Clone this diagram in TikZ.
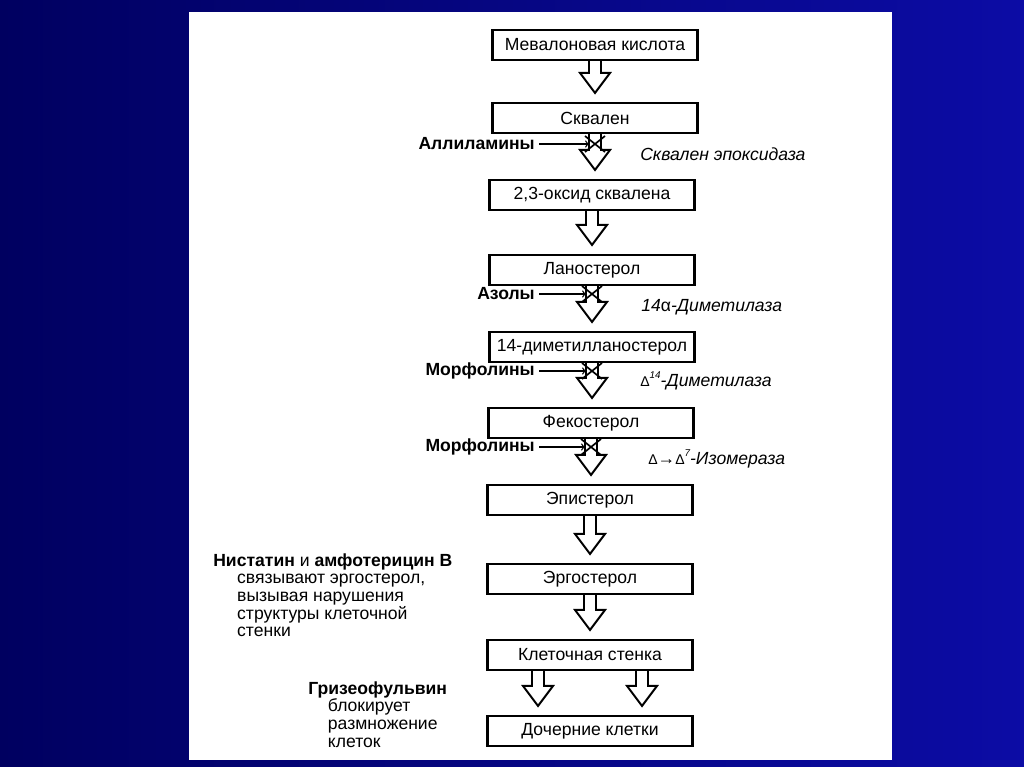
\documentclass[tikz,border=0pt]{standalone}
\usepackage{fontspec}
\setmainfont{Liberation Sans}
\usetikzlibrary{calc}
\definecolor{slidedark}{RGB}{0,0,96}
\definecolor{slidelight}{RGB}{12,12,165}
\tikzset{
  stage/.style={draw, line width=1.5pt, minimum width=5.125cm, minimum height=0.75cm, inner sep=0pt, font=\fontsize{12.5}{14}\selectfont},
  hollow/.style={line width=1.4pt, line join=miter},
  drug/.style={anchor=east, inner sep=0pt, font=\fontsize{12.5}{14}\selectfont\bfseries},
  enzyme/.style={anchor=west, inner sep=0pt, font=\fontsize{12.5}{14}\selectfont\itshape},
  note/.style={anchor=north west, inner sep=0pt, align=left, font=\fontsize{12.5}{12.6}\selectfont},
}
\newcommand{\smalldelta}{{\upshape\fontsize{10}{12}\selectfont Δ}}
% hollow block arrow from a shaft top (#1) down to the box #2
\newcommand{\blockarrow}[2]{%
  \draw[hollow] ($(#1)+(-6,0)$) -- ($(#1 |- #2.north)+(-6,-29)$) -- ($(#1 |- #2.north)+(-15,-29)$)
    -- ($(#1 |- #2.north)+(0,-9)$) -- ($(#1 |- #2.north)+(15,-29)$) -- ($(#1 |- #2.north)+(6,-29)$) -- ($(#1)+(6,0)$);
}
% cross over the shaft where a step is blocked
\newcommand{\blockmark}[1]{%
  \draw[line width=1.2pt] ($(#1)+(-4,-8)$) -- ($(#1)+(16,8)$) ($(#1)+(-4,8)$) -- ($(#1)+(16,-8)$);
}
\begin{document}
\begin{tikzpicture}[x=0.025cm, y=-0.025cm]
    \useasboundingbox (0,0) rectangle (1024,767);
    \shade[left color=slidedark, right color=slidelight] (0,0) rectangle (1024,767);
    \fill[white] (189,12) rectangle (892,760);
    % pathway boxes
    \node[stage] (mev) at (595,45) {Мевалоновая кислота};
    \node[stage] (squal) at (595,118) {Сквален};
    \node[stage] (oxide) at (592,195) {2,3-оксид сквалена};
    \node[stage] (lano) at (592,270) {Ланостерол};
    \node[stage] (dimeth) at (592,347) {14-диметилланостерол};
    \node[stage] (feco) at (591,423) {Фекостерол};
    \node[stage] (epi) at (590,500) {Эпистерол};
    \node[stage] (ergo) at (590,579) {Эргостерол};
    \node[stage] (wall) at (590,655) {Клеточная стенка};
    \node[stage] (daughter) at (590,731) {Дочерние клетки};
    % block arrows
    \blockarrow{mev.south}{squal}
    \blockarrow{squal.south}{oxide}
    \blockarrow{oxide.south}{lano}
    \blockarrow{lano.south}{dimeth}
    \blockarrow{dimeth.south}{feco}
    \blockarrow{feco.south}{epi}
    \blockarrow{epi.south}{ergo}
    \blockarrow{ergo.south}{wall}
    \coordinate (wallL) at ($(wall.south)+(-52,0)$);
    \coordinate (wallR) at ($(wall.south)+(52,0)$);
    \blockarrow{wallL}{daughter}
    \blockarrow{wallR}{daughter}
    % inhibitors
    \node[drug] (allyl) at (535,144) {Аллиламины};
    \node[drug] (azole) at (535,294) {Азолы};
    \node[drug] (morphA) at (535,371) {Морфолины};
    \node[drug] (morphB) at (535,447) {Морфолины};
    \coordinate (hitA) at ($(squal.south |- allyl.east)+(-6,0)$);
    \coordinate (hitB) at ($(lano.south |- azole.east)+(-6,0)$);
    \coordinate (hitC) at ($(dimeth.south |- morphA.east)+(-6,0)$);
    \coordinate (hitD) at ($(feco.south |- morphB.east)+(-6,0)$);
    \foreach \d/\h in {allyl/hitA, azole/hitB, morphA/hitC, morphB/hitD} {
        \draw[->, line width=0.9pt, shorten <=3pt] (\d.east) -- (\h);
        \blockmark{\h}
    }
    % enzymes
    \node[enzyme] (epox) at (640,154) {Сквален эпоксидаза};
    \node[enzyme] (demA) at (641,307) {14{\upshape α}-Диметилаза};
    \node[enzyme] (demB) at (640,381) {\smalldelta\raisebox{0.8ex}{\scriptsize 14}-Диметилаза};
    \node[enzyme] (isom) at (648,459) {\smalldelta{\upshape→}\smalldelta\raisebox{0.8ex}{\scriptsize 7}-Изомераза};
    % side notes
    \node[note] (nystatin) at (213,553) {\textbf{Нистатин} и \textbf{амфотерицин B}\\
        \hspace*{17pt}связывают эргостерол,\\
        \hspace*{17pt}вызывая нарушения\\
        \hspace*{17pt}структуры клеточной\\
        \hspace*{17pt}стенки};
    \node[note] (griseo) at (308,681) {\textbf{Гризеофульвин}\\
        \hspace*{14pt}блокирует\\
        \hspace*{14pt}размножение\\
        \hspace*{14pt}клеток};
\end{tikzpicture}
\end{document}
